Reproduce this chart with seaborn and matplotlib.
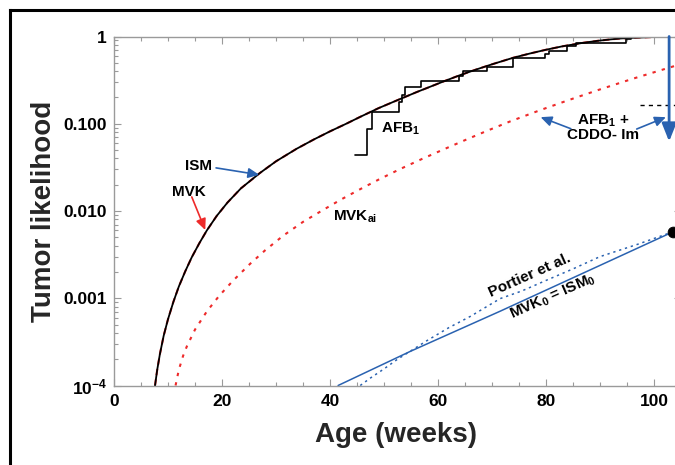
import numpy as np
import matplotlib
matplotlib.use('Agg')
import matplotlib.pyplot as plt
from matplotlib.ticker import MultipleLocator, LogLocator, NullFormatter
from matplotlib.lines import Line2D
import seaborn as sns

# curves (age in weeks, tumor likelihood)
ism_t = [7.6, 8.0, 8.5, 9.2, 10.0, 11.0, 12.0, 13.2, 14.4, 15.8, 17.2, 19.0, 21.0,
         23.5, 27.0, 30.0, 33.8, 37.0, 40.0, 43.0, 45.6, 49.0, 52.0, 56.0, 61.0,
         64.0, 67.0, 70.0, 73.9, 77.0, 80.0, 83.0, 86.9, 89.5, 92.0, 94.0, 96.2,
         98.5, 101.0, 104.5]
ism_p = [1e-4, 1.51e-4, 2.29e-4, 3.72e-4, 5.75e-4, 9.1e-4, 1.36e-3, 2.04e-3, 2.95e-3,
         4.27e-3, 6.0e-3, 8.75e-3, 0.01247, 0.01816, 0.0272, 0.0371, 0.0516, 0.066,
         0.0818, 0.100, 0.120, 0.151, 0.181, 0.230, 0.305, 0.359, 0.417, 0.480, 0.570,
         0.638, 0.705, 0.771, 0.847, 0.891, 0.927, 0.951, 0.966, 0.979, 0.991, 0.998]
mvk_t = ism_t
mvk_p = ism_p

mvk_ai_t = [11.4, 12.0, 12.8, 13.5, 15.0, 17.2, 19.5, 22.0, 25.2, 28.0, 31.4, 35.0,
            38.8, 42.0, 45.6, 49.0, 53.0, 57.0, 61.0, 65.3, 69.0, 73.3, 78.9, 84.0,
            89.7, 96.0, 104.5]
mvk_ai_p = [1e-4, 1.51e-4, 2.19e-4, 2.82e-4, 4.37e-4, 7.08e-4, 1.07e-3, 1.58e-3,
            2.48e-3, 3.55e-3, 5.25e-3, 7.5e-3, 0.01035, 0.0135, 0.0178, 0.0229, 0.0303,
            0.0394, 0.0507, 0.0661, 0.0826, 0.106, 0.143, 0.185, 0.244, 0.327, 0.473]

ism0_t = [41.5, 54.8, 71.5, 90.0, 103.6]
ism0_p = [1e-4, 2.45e-4, 7.1e-4, 2.38e-3, 5.8e-3]

portier_t = [45.6, 47.5, 50.0, 52.5, 55.0, 58.0, 62.0, 66.0, 71.5, 75.5, 80.0, 85.0,
             90.0, 97.0, 103.6]
portier_p = [1e-4, 1.22e-4, 1.55e-4, 2.0e-4, 2.5e-4, 3.28e-4, 4.6e-4, 6.2e-4, 9.9e-4,
             1.21e-3, 1.6e-3, 2.17e-3, 3.0e-3, 4.16e-3, 5.8e-3]

# AFB1 observed incidence (step function)
afb_t = [44.6, 46.8, 47.7, 52.8, 53.4, 53.9, 56.8, 63.8, 64.7, 69.0, 73.8, 79.8,
         80.5, 83.8, 85.5, 94.9, 95.8, 103.0]
afb_p = [0.044, 0.087, 0.135, 0.176, 0.216, 0.264, 0.306, 0.356, 0.399, 0.444, 0.569,
         0.626, 0.678, 0.774, 0.847, 0.94, 0.99, 0.99]

cddo_t = [97.4, 105.0]
cddo_p = [0.165, 0.165]

end_t = [103.6]
end_p = [5.8e-3]

x_ticks = [0, 20, 40, 60, 80, 100]
y_ticks = [1e-4, 1e-3, 1e-2, 1e-1, 1]
y_labels = [r'$\mathbf{10^{-4}}$', '0.001', '0.010', '0.100', '1']

blue = '#2a62b0'
red = '#ee2a2a'
gray = '#9a9a9a'

sns.set_theme(style='ticks')
plt.rcParams['font.family'] = ['Liberation Sans', 'DejaVu Sans']
plt.rcParams['font.weight'] = 'bold'
plt.rcParams['mathtext.fontset'] = 'custom'
plt.rcParams['mathtext.rm'] = 'Liberation Sans:bold'
plt.rcParams['mathtext.bf'] = 'Liberation Sans:bold'
plt.rcParams['mathtext.it'] = 'Liberation Sans:bold'

fig = plt.figure(figsize=(6.75, 4.65), dpi=100)
ax = fig.add_axes([114 / 675, 79.5 / 465, 567 / 675, 349 / 465])
ax.set_yscale('log')

sns.lineplot(x=mvk_t, y=mvk_p, ax=ax, color=red, lw=1.5, linestyle=(0, (3, 2)))
sns.lineplot(x=ism_t, y=ism_p, ax=ax, color='black', lw=1.3)
sns.lineplot(x=mvk_ai_t, y=mvk_ai_p, ax=ax, color=red, lw=1.5, linestyle=(0, (1.6, 3)))
sns.lineplot(x=ism0_t, y=ism0_p, ax=ax, color=blue, lw=1.1)
sns.lineplot(x=portier_t, y=portier_p, ax=ax, color=blue, lw=1.1, linestyle=(0, (1.5, 2.5)))
sns.lineplot(x=afb_t, y=afb_p, ax=ax, color='black', lw=1.2, drawstyle='steps-post')
sns.lineplot(x=cddo_t, y=cddo_p, ax=ax, color='black', lw=1.0, linestyle=(0, (3, 3)))
sns.scatterplot(x=end_t, y=end_p, ax=ax, color='black', s=60, edgecolor='black', zorder=5)

ax.set_xlim(0, 105)
ax.set_ylim(1e-4, 1)
ax.set_xticks(x_ticks)
ax.set_xticklabels([str(v) for v in x_ticks])
ax.xaxis.set_minor_locator(MultipleLocator(5))
ax.set_yticks(y_ticks)
ax.set_yticklabels(y_labels)
ax.yaxis.set_minor_locator(LogLocator(base=10, subs=range(2, 10)))
ax.yaxis.set_minor_formatter(NullFormatter())

ax.tick_params(which='both', direction='in', top=True, right=True, color=gray,
               width=0.8, labelsize=12.5, labelcolor='black')
ax.tick_params(which='major', length=5)
ax.tick_params(which='minor', length=3)
ax.tick_params(axis='y', pad=5)
ax.tick_params(axis='x', pad=6)
for lab in ax.get_xticklabels() + ax.get_yticklabels():
    lab.set_fontweight('bold')
for s in ax.spines.values():
    s.set_color(gray)
    s.set_linewidth(1.0)

ax.set_xlabel('Age (weeks)', fontsize=20, fontweight='bold')
ax.set_ylabel('Tumor likelihood', fontsize=20, fontweight='bold')
ax.xaxis.set_label_coords(0.497, -0.105)
ax.yaxis.set_label_coords(-0.10, 0.5)

# labels and arrows
tk = dict(fontsize=11, fontweight='bold', color='black')
ax.text(15.7, 0.033, 'ISM', ha='center', va='center', **tk)
ax.text(13.9, 0.0165, 'MVK', ha='center', va='center', **tk)
ax.text(40.5, 0.0085, r'MVK$_{\mathbf{ai}}$', ha='left', va='center', **tk)
ax.text(53.1, 0.0877, r'AFB$_{\mathbf{1}}$', ha='center', va='center', **tk)
ax.text(90.6, 0.09, 'AFB$_{\\mathbf{1}}$ +\nCDDO- Im', ha='center', va='center',
        linespacing=0.9, **tk)
ax.text(77.0, 1.84e-3, 'Portier et al.', ha='center', va='center', rotation=24,
        rotation_mode='anchor', **tk)
ax.text(81.3, 1.035e-3, r'MVK$_{\mathbf{0}}$ = ISM$_{\mathbf{0}}$', ha='center', va='center',
        rotation=24, rotation_mode='anchor', **tk)

small = dict(arrowstyle='-|>,head_length=0.55,head_width=0.25', lw=1.2,
             mutation_scale=12, shrinkA=0, shrinkB=0)
ax.annotate('', xy=(26.9, 0.026), xytext=(18.9, 0.0312),
            arrowprops=dict(color=blue, **small))
ax.annotate('', xy=(16.9, 0.00605), xytext=(14.4, 0.0145),
            arrowprops=dict(color=red, **small))
ax.annotate('', xy=(79.0, 0.119), xytext=(84.6, 0.0877),
            arrowprops=dict(color=blue, **small))
ax.annotate('', xy=(102.2, 0.119), xytext=(96.8, 0.087),
            arrowprops=dict(color=blue, **small))
ax.annotate('', xy=(102.8, 0.0626), xytext=(102.8, 1.0),
            arrowprops=dict(arrowstyle='-|>,head_length=0.9,head_width=0.36', lw=2.0,
                            mutation_scale=12, color=blue, shrinkA=0, shrinkB=0))

# outer frame of the panel (left and top edges visible)
fig.add_artist(Line2D([10 / 675, 10 / 675], [0, 1 - 10.5 / 465], transform=fig.transFigure,
                      color='black', lw=2.2, solid_capstyle='projecting'))
fig.add_artist(Line2D([10 / 675, 1], [1 - 10.5 / 465, 1 - 10.5 / 465], transform=fig.transFigure,
                      color='black', lw=2.2, solid_capstyle='projecting'))

fig.savefig('out.png', dpi=100, facecolor='white')
